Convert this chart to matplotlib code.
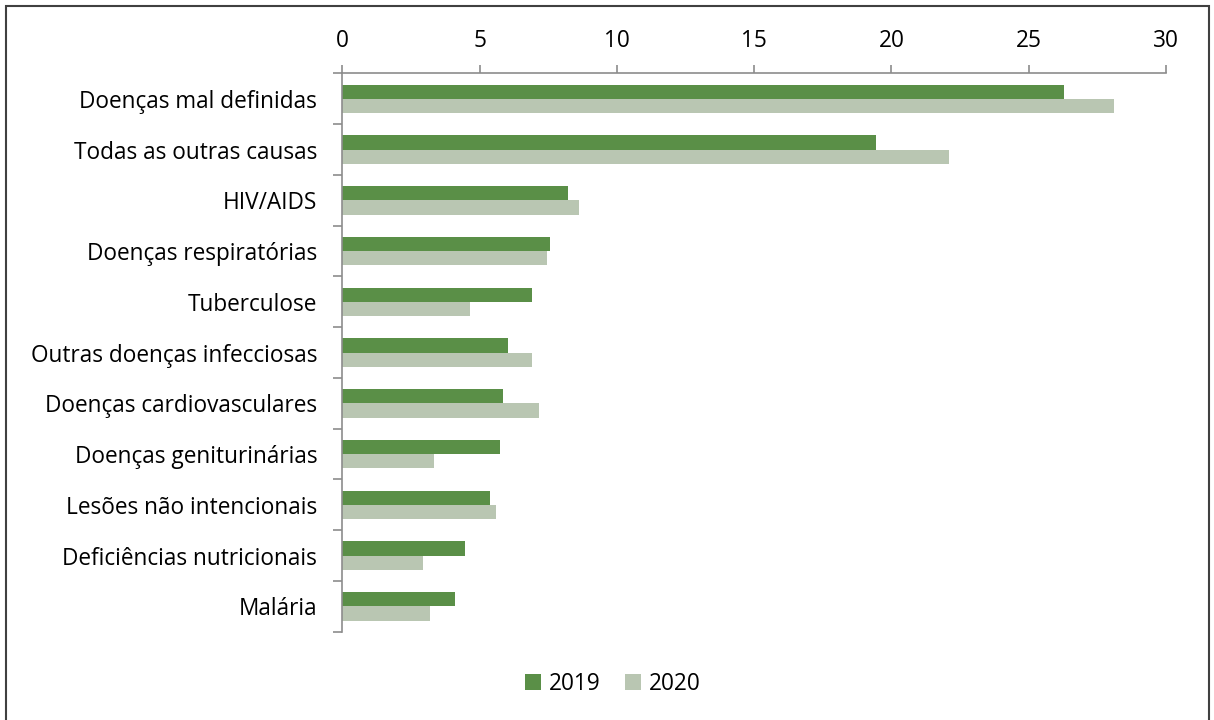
import numpy as np
import matplotlib
matplotlib.use('Agg')
import matplotlib.pyplot as plt
from matplotlib.patches import Rectangle

plt.rcParams['font.family'] = ['Open Sans', 'DejaVu Sans']

# Causes of death, top to bottom
categories = [
    'Doenças mal definidas',
    'Todas as outras causas',
    'HIV/AIDS',
    'Doenças respiratórias',
    'Tuberculose',
    'Outras doenças infecciosas',
    'Doenças cardiovasculares',
    'Doenças geniturinárias',
    'Lesões não intencionais',
    'Deficiências nutricionais',
    'Malária',
]
vals_2019 = [26.27, 19.44, 8.23, 7.58, 6.92, 6.02, 5.84, 5.76, 5.36, 4.45, 4.12]
vals_2020 = [28.09, 22.10, 8.61, 7.45, 4.66, 6.92, 7.15, 3.35, 5.59, 2.95, 3.21]
years = ['2019', '2020']
x_ticks = [0, 5, 10, 15, 20, 25, 30]

COLOR_2019 = '#5a8f47'
COLOR_2020 = '#b9c6b2'
AXIS_GRAY = '#8c8c8c'
FS = 16.3

fig = plt.figure(figsize=(12.14, 7.2), dpi=100)
ax = fig.add_axes([0.282, 0.1226, 0.9605 - 0.282, 0.898 - 0.1226])

y = np.arange(len(categories))
h = 0.282
ax.barh(y - h / 2, vals_2019, height=h, color=COLOR_2019, label=years[0])
ax.barh(y + h / 2, vals_2020, height=h, color=COLOR_2020, label=years[1])

ax.set_ylim(len(categories) - 0.5, -0.5)
ax.set_xlim(0, 30)

# value axis on top
ax.xaxis.tick_top()
ax.set_xticks(x_ticks)
ax.set_xticklabels([str(t) for t in x_ticks])
ax.tick_params(axis='x', which='major', direction='out', length=6, width=1.2,
               color=AXIS_GRAY, labelsize=FS, pad=9)

# category labels centred, tick marks between categories
ax.set_yticks(y)
ax.set_yticklabels(categories)
ax.set_yticks(np.arange(len(categories) + 1) - 0.5, minor=True)
ax.tick_params(axis='y', which='major', length=0, labelsize=FS, pad=18)
ax.tick_params(axis='y', which='minor', direction='out', length=6.5, width=1.2,
               color=AXIS_GRAY)

for side in ['right', 'bottom']:
    ax.spines[side].set_visible(False)
for side in ['top', 'left']:
    ax.spines[side].set_color(AXIS_GRAY)
    ax.spines[side].set_linewidth(1.2)

fig.legend(loc='center', bbox_to_anchor=(613 / 1214, 1 - 684 / 720), ncol=2,
           frameon=False, fontsize=FS, handlelength=0.7, handleheight=0.7,
           handletextpad=0.35, columnspacing=1.1)

# outer chart border
fig.patches.append(Rectangle((6 / 1214, -0.02), 1203 / 1214, 1 - 6 / 720 + 0.02,
                             transform=fig.transFigure, fill=False,
                             edgecolor='#404040', linewidth=1.5))

fig.savefig('out.png', dpi=100)
